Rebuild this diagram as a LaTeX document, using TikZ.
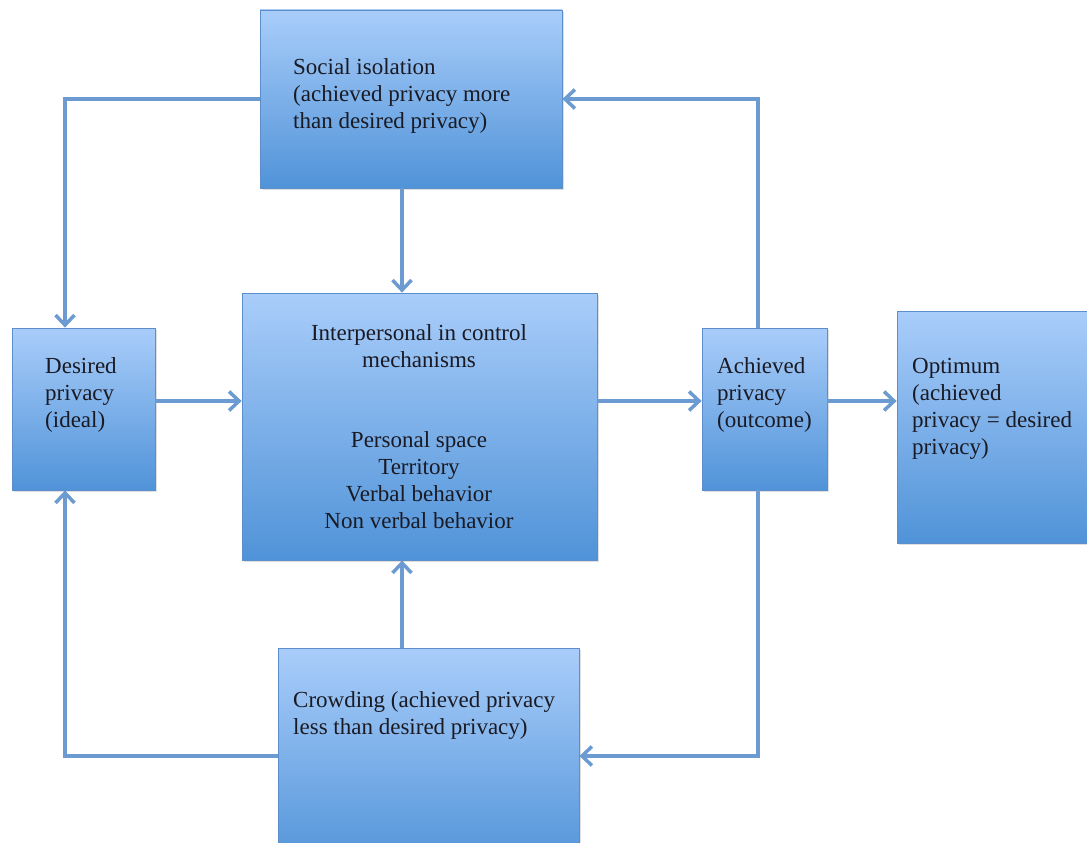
\documentclass[tikz,border=0pt]{standalone}
\usepackage{fontspec}
\setmainfont{Liberation Serif}
\usetikzlibrary{arrows.meta,shadows}
\definecolor{boxtop}{RGB}{169,205,250}
\definecolor{boxbot}{RGB}{80,147,216}
\definecolor{boxline}{RGB}{92,142,204}
\definecolor{flowline}{RGB}{108,155,210}
\definecolor{ink}{RGB}{26,26,36}
\begin{document}
\begin{tikzpicture}[x=1pt,y=-1pt,font=\fontsize{23}{27}\selectfont]
	\tikzstyle{box}=[rectangle,draw=boxline,line width=0.8pt,top color=boxtop,bottom color=boxbot,drop shadow={opacity=0.25,shadow xshift=1.5pt,shadow yshift=-2pt}]
	\tikzstyle{txt}=[inner sep=0pt,text=ink,align=left,anchor=base west] % text block, placed by its last line
	\tikzstyle{flow}=[draw=flowline,line width=3.5pt,-{Straight Barb[length=10pt,width=19pt]}]
	\useasboundingbox (0,0) rectangle (1087,843);
	\clip (0,0) rectangle (1087,843);
	% boxes
	\node[box,minimum width=302pt,minimum height=178pt] (social) at (411,99) {};
	\node[box,minimum width=143pt,minimum height=162pt] (desired) at (83.5,409) {};
	\node[box,minimum width=355pt,minimum height=267pt] (central) at (419.5,426.5) {};
	\node[box,minimum width=125pt,minimum height=162pt] (achieved) at (764.5,409) {};
	\node[box,minimum width=215pt,minimum height=232pt] (optimum) at (1004.5,427) {};
	\node[box,minimum width=301pt,minimum height=222pt] (crowding) at (428.5,759) {};
	% texts
	\node[txt] (socialtxt) at (293,128) {Social isolation\\(achieved privacy more\\than desired privacy)};
	\node[txt] (desiredtxt) at (45,427) {Desired\\privacy\\(ideal)};
	\node[txt,align=center,anchor=base] (centraltxt) at (419,528) {Interpersonal in control\\mechanisms\\[53pt]Personal space\\Territory\\Verbal behavior\\Non verbal behavior};
	\node[txt] (achievedtxt) at (717,427) {Achieved\\privacy\\(outcome)};
	\node[txt] (optimumtxt) at (912,454) {Optimum\\(achieved\\privacy = desired\\privacy)};
	\node[txt] (crowdingtxt) at (293,734) {Crowding (achieved privacy\\less than desired privacy)};
	% connectors
	\coordinate (mid) at (0,401);
	\coordinate (low) at (0,756);
	\coordinate (vleft) at (65,0);
	\coordinate (vcent) at (402,0);
	\coordinate (vright) at (758,0);
	\draw[flow] (social.west) -| (desired.north -| vleft);
	\draw[flow] (social.south -| vcent) -- (central.north -| vcent);
	\draw[flow] (achieved.north -| vright) |- (social.east);
	\draw[flow] (desired.east |- mid) -- (central.west |- mid);
	\draw[flow] (central.east |- mid) -- (achieved.west |- mid);
	\draw[flow] (achieved.east |- mid) -- (optimum.west |- mid);
	\draw[flow] (achieved.south -| vright) |- (crowding.east |- low);
	\draw[flow] (crowding.west |- low) -| (desired.south -| vleft);
	\draw[flow] (crowding.north -| vcent) -- (central.south -| vcent);
\end{tikzpicture}
\end{document}
